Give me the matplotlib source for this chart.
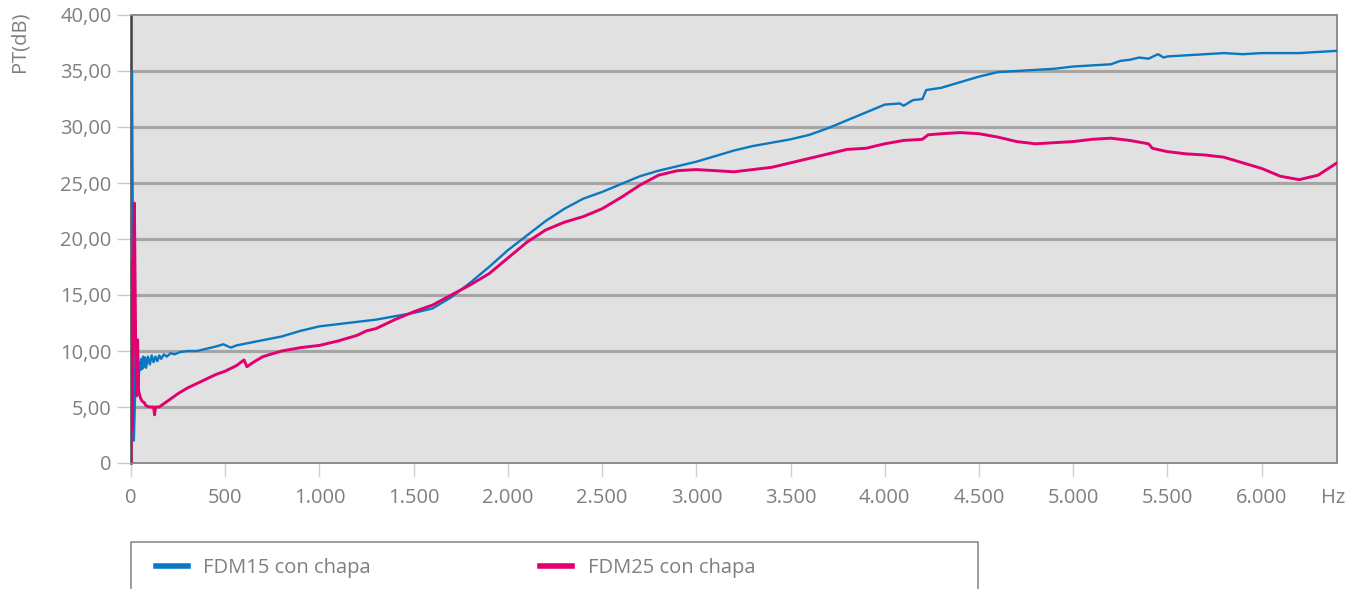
import matplotlib.pyplot as plt
from matplotlib.patches import Rectangle

# data (Hz, dB)
fdm15_hz = [0, 5, 10, 15, 20, 30, 35, 40, 45, 50, 55, 60, 65, 70, 75, 80, 90, 100, 110, 120,
            130, 140, 150, 160, 175, 190, 210, 230, 260, 300, 350, 400, 450, 490, 530, 560,
            650, 800, 900, 1000, 1100, 1200, 1300, 1400, 1500, 1600, 1700, 1800, 1900, 2000,
            2100, 2200, 2300, 2400, 2500, 2600, 2700, 2800, 2900, 3000, 3100, 3200, 3300,
            3400, 3500, 3600, 3700, 3800, 3900, 4000, 4080, 4100, 4150, 4200, 4220, 4300,
            4400, 4500, 4600, 4700, 4800, 4900, 5000, 5100, 5200, 5250, 5300, 5350, 5400,
            5450, 5480, 5500, 5600, 5700, 5800, 5900, 6000, 6200, 6400]
fdm15_db = [2, 35, 20, 2, 5, 11, 10.5, 7, 9, 8.3, 9.3, 8.4, 9.5, 8.6, 9.4, 8.5, 9.5, 8.8, 9.6, 9.0,
            9.5, 9.1, 9.6, 9.3, 9.7, 9.5, 9.8, 9.7, 9.9, 10.0, 10.0, 10.2, 10.4, 10.6, 10.3, 10.5,
            10.8, 11.3, 11.8, 12.2, 12.4, 12.6, 12.8, 13.1, 13.4, 13.8, 14.8, 16.1, 17.5, 19.0,
            20.3, 21.6, 22.7, 23.6, 24.2, 24.9, 25.6, 26.1, 26.5, 26.9, 27.4, 27.9, 28.3,
            28.6, 28.9, 29.3, 29.9, 30.6, 31.3, 32.0, 32.1, 31.9, 32.4, 32.5, 33.3, 33.5,
            34.0, 34.5, 34.9, 35.0, 35.1, 35.2, 35.4, 35.5, 35.6, 35.9, 36.0, 36.2, 36.1,
            36.5, 36.2, 36.3, 36.4, 36.5, 36.6, 36.5, 36.6, 36.6, 36.8]

fdm25_hz = [0, 3, 6, 10, 18, 25, 30, 35, 40, 50, 60, 70, 80, 100, 120, 125, 130, 150, 200, 250,
            300, 350, 400, 450, 500, 560, 600, 615, 650, 700, 800, 900, 1000, 1100, 1200,
            1250, 1300, 1400, 1500, 1600, 1700, 1800, 1900, 2000, 2100, 2200, 2300, 2400,
            2500, 2600, 2700, 2800, 2900, 3000, 3100, 3200, 3300, 3400, 3500, 3600, 3700,
            3800, 3900, 4000, 4100, 4200, 4230, 4300, 4400, 4500, 4600, 4700, 4800, 4900,
            5000, 5100, 5200, 5300, 5400, 5420, 5500, 5600, 5700, 5800, 5900, 6000, 6100,
            6200, 6300, 6400]
fdm25_db = [0, 18, 3, 14, 23.2, 10, 6, 11, 6.5, 5.8, 5.5, 5.4, 5.1, 5.0, 5.0, 4.3, 5.0, 5.0, 5.6, 6.2,
            6.7, 7.1, 7.5, 7.9, 8.2, 8.7, 9.2, 8.6, 9.0, 9.5, 10.0, 10.3, 10.5, 10.9, 11.4,
            11.8, 12.0, 12.8, 13.5, 14.1, 15.0, 15.9, 16.9, 18.3, 19.7, 20.8, 21.5, 22.0,
            22.7, 23.7, 24.8, 25.7, 26.1, 26.2, 26.1, 26.0, 26.2, 26.4, 26.8, 27.2, 27.6,
            28.0, 28.1, 28.5, 28.8, 28.9, 29.3, 29.4, 29.5, 29.4, 29.1, 28.7, 28.5, 28.6,
            28.7, 28.9, 29.0, 28.8, 28.5, 28.1, 27.8, 27.6, 27.5, 27.3, 26.8, 26.3, 25.6,
            25.3, 25.7, 26.8]

series_names = ["FDM15 con chapa", "FDM25 con chapa"]
y_ticks = [0, 5, 10, 15, 20, 25, 30, 35, 40]
y_labels = ["0", "5,00", "10,00", "15,00", "20,00", "25,00", "30,00", "35,00", "40,00"]
x_ticks = [0, 500, 1000, 1500, 2000, 2500, 3000, 3500, 4000, 4500, 5000, 5500, 6000]
x_labels = ["0", "500", "1.000", "1.500", "2.000", "2.500", "3.000", "3.500", "4.000",
            "4.500", "5.000", "5.500", "6.000"]

plt.rcParams['font.family'] = ['Open Sans', 'DejaVu Sans']
txt_col = '#7f7f7f'
fs = 14.5

fig = plt.figure(figsize=(13.62, 5.89), dpi=100)
ax = fig.add_axes([131 / 1362, 1 - 463 / 589, (1337 - 131) / 1362, (463 - 15) / 589])
ax.set_facecolor('#e1e1e1')

l1, = ax.plot(fdm15_hz, fdm15_db, color='#0a77c2', lw=1.7, zorder=3)
l2, = ax.plot(fdm25_hz, fdm25_db, color='#e2006f', lw=2.1, zorder=3)

ax.set_xlim(0, 6400)
ax.set_ylim(0, 40)
ax.set_yticks(y_ticks)
ax.set_yticklabels(y_labels)
ax.set_xticks(x_ticks)
ax.set_xticklabels(x_labels)
ax.tick_params(axis='y', length=10, width=1, color='#c8c8c8', labelsize=fs, labelcolor=txt_col, pad=4)
ax.tick_params(axis='x', length=10, width=1, color='#d0d0d0', labelsize=fs, labelcolor=txt_col, pad=8)

for yv in y_ticks[1:-1]:
    ax.axhline(yv, color='#a5a5a5', lw=2.3, zorder=1)

for side in ['top', 'right', 'bottom']:
    ax.spines[side].set_color('#8c8c8c')
    ax.spines[side].set_linewidth(1.4)
ax.spines['left'].set_color('#404040')
ax.spines['left'].set_linewidth(1.8)

fig.text(20 / 1362, 1 - 42 / 589, "PT(dB)", rotation=90, ha='center', va='center',
         fontsize=fs, color=txt_col)
fig.text(1333 / 1362, 1 - 498 / 589, "Hz", ha='center', va='center', fontsize=fs, color=txt_col)

# legend box, cut off by the bottom edge like the original
fig.patches.append(Rectangle((131 / 1362, -0.05), (978 - 131) / 1362, 0.05 + 47 / 589,
                             transform=fig.transFigure, fill=False, edgecolor='#8c8c8c', lw=1.2))
fig.legend([l1, l2], series_names, loc='center left', bbox_to_anchor=(138 / 1362, 1 - 568 / 589),
           ncol=2, frameon=False, fontsize=fs, labelcolor=txt_col, handlelength=1.6,
           handletextpad=0.75, columnspacing=8.4)
for h in fig.legends[0].legend_handles:
    h.set_linewidth(4)

fig.savefig('out.png', dpi=100)
